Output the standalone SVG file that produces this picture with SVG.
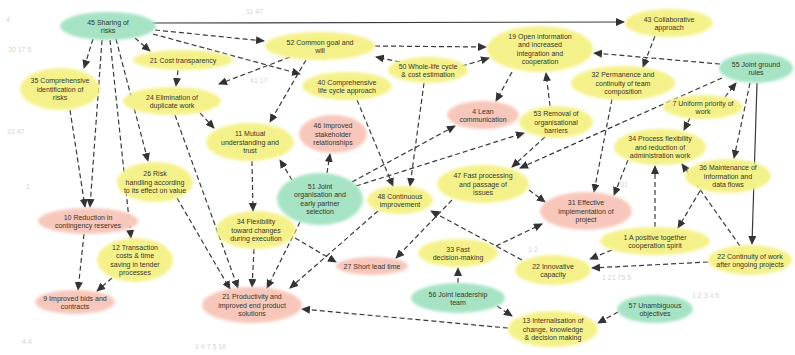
<svg xmlns="http://www.w3.org/2000/svg" width="795" height="355" viewBox="0 0 795 355">
<style>
.y{fill:#f5f18a}
.g{fill:#a6e3c4}
.s{fill:#f8c7bb}
.n ellipse{filter:url(#soft)}
.n text{font-family:"Liberation Sans",Arial,sans-serif;font-size:7px;fill:#35352a;text-anchor:middle}
.e line{stroke:#3a3a3a;stroke-width:1.2;stroke-dasharray:5 3;marker-end:url(#ah);fill:none}
.e line.solid{stroke-dasharray:none}
.faint{font-family:"Liberation Sans",Arial,sans-serif;font-size:7px;fill:#d4d4d4}
</style>
<defs>
<filter id="soft" x="-20%" y="-30%" width="140%" height="160%"><feGaussianBlur stdDeviation="1.6"/></filter>
<marker id="ah" markerUnits="userSpaceOnUse" markerWidth="9" markerHeight="8" refX="8" refY="4" orient="auto"><path d="M0,0 L9,4 L0,8 Z" fill="#333"/></marker>
</defs>
<rect width="795" height="355" fill="#fff"/>
<g id="faint-labels">
<text class="faint" x="246" y="14">11 47</text>
<text class="faint" x="250" y="83">41 17</text>
<text class="faint" x="6" y="22">4</text>
<text class="faint" x="8" y="52">30 17 5</text>
<text class="faint" x="7" y="134">31 47</text>
<text class="faint" x="26" y="189">1</text>
<text class="faint" x="22" y="344">4 4</text>
<text class="faint" x="195" y="349">1 4 7 5 16</text>
<text class="faint" x="602" y="280">1 21 75 5</text>
<text class="faint" x="692" y="298">1 2 3 4 5</text>
<text class="faint" x="528" y="252">1 2</text>
<text class="faint" x="620" y="187">31</text>
</g>
<g id="connectors" class="e">
<line class="solid" x1="152" y1="23" x2="624" y2="22"/>
<line x1="155" y1="30" x2="264" y2="41"/>
<line x1="153" y1="34" x2="300" y2="74"/>
<line x1="135" y1="38" x2="150" y2="51"/>
<line x1="93" y1="39" x2="84" y2="68"/>
<line x1="102" y1="40" x2="90" y2="207"/>
<line x1="70" y1="110" x2="85" y2="207"/>
<line x1="110" y1="40" x2="131" y2="238"/>
<line x1="116" y1="39" x2="148" y2="161"/>
<line x1="178" y1="70" x2="176" y2="86"/>
<line x1="290" y1="57" x2="219" y2="84"/>
<line x1="306" y1="60" x2="270" y2="122"/>
<line x1="375" y1="46" x2="486" y2="47"/>
<line x1="400" y1="62" x2="376" y2="57"/>
<line x1="462" y1="66" x2="489" y2="58"/>
<line x1="512" y1="72" x2="496" y2="101"/>
<line x1="550" y1="106" x2="546" y2="73"/>
<line x1="720" y1="64" x2="594" y2="53"/>
<line x1="655" y1="36" x2="643" y2="67"/>
<line x1="722" y1="78" x2="520" y2="168"/>
<line x1="750" y1="83" x2="734" y2="158"/>
<line class="solid" x1="757" y1="83" x2="752" y2="244"/>
<line x1="725" y1="97" x2="736" y2="83"/>
<line x1="690" y1="118" x2="684" y2="130"/>
<line x1="612" y1="99" x2="594" y2="192"/>
<line x1="628" y1="160" x2="614" y2="195"/>
<line x1="655" y1="227" x2="655" y2="166"/>
<line x1="740" y1="246" x2="682" y2="164"/>
<line x1="700" y1="191" x2="678" y2="228"/>
<line x1="708" y1="262" x2="592" y2="268"/>
<line x1="612" y1="250" x2="590" y2="259"/>
<line x1="497" y1="306" x2="512" y2="316"/>
<line x1="618" y1="312" x2="598" y2="323"/>
<line x1="508" y1="328" x2="302" y2="309"/>
<line x1="458" y1="283" x2="458" y2="268"/>
<line x1="452" y1="200" x2="396" y2="258"/>
<line x1="496" y1="246" x2="542" y2="224"/>
<line x1="522" y1="260" x2="431" y2="211"/>
<line x1="529" y1="190" x2="545" y2="202"/>
<line x1="545" y1="137" x2="512" y2="167"/>
<line x1="356" y1="186" x2="524" y2="133"/>
<line x1="352" y1="182" x2="455" y2="126"/>
<line x1="357" y1="100" x2="393" y2="186"/>
<line x1="424" y1="83" x2="410" y2="186"/>
<line x1="292" y1="180" x2="280" y2="160"/>
<line x1="327" y1="173" x2="330" y2="154"/>
<line x1="252" y1="161" x2="253" y2="211"/>
<line x1="378" y1="211" x2="290" y2="288"/>
<line x1="295" y1="238" x2="336" y2="262"/>
<line x1="254" y1="249" x2="252" y2="287"/>
<line x1="300" y1="222" x2="267" y2="288"/>
<line x1="177" y1="198" x2="230" y2="289"/>
<line x1="175" y1="115" x2="238" y2="288"/>
<line x1="200" y1="113" x2="214" y2="128"/>
<line x1="84" y1="234" x2="78" y2="290"/>
<line x1="112" y1="278" x2="97" y2="291"/>
</g>
<g id="n45" class="n"><ellipse class="g" cx="108" cy="26" rx="48" ry="14"/><text x="108" y="24.5">45 Sharing of</text><text x="108" y="33">risks</text></g>
<g id="n52" class="n"><ellipse class="y" cx="320" cy="46" rx="55" ry="14"/><text x="320" y="44.5">52 Common goal and</text><text x="320" y="53">will</text></g>
<g id="n19" class="n"><ellipse class="y" cx="540" cy="49" rx="53" ry="23"/><text x="540" y="38.5">19 Open information</text><text x="540" y="47">and increased</text><text x="540" y="55.5">integration and</text><text x="540" y="64">cooperation</text></g>
<g id="n43" class="n"><ellipse class="y" cx="669" cy="23" rx="44" ry="14"/><text x="669" y="21.5">43 Collaborative</text><text x="669" y="30">approach</text></g>
<g id="n55" class="n"><ellipse class="g" cx="756" cy="68" rx="37" ry="15"/><text x="756" y="66.5">55 Joint ground</text><text x="756" y="75">rules</text></g>
<g id="n35" class="n"><ellipse class="y" cx="60" cy="89" rx="40" ry="21"/><text x="60" y="83">35 Comprehensive</text><text x="60" y="91.5">identification of</text><text x="60" y="100">risks</text></g>
<g id="n21c" class="n"><ellipse class="y" cx="183" cy="60" rx="50" ry="10"/><text x="183" y="62.5">21 Cost transparency</text></g>
<g id="n24" class="n"><ellipse class="y" cx="172" cy="101" rx="49" ry="14"/><text x="172" y="99.5">24 Elimination of</text><text x="172" y="108">duplicate work</text></g>
<g id="n40" class="n"><ellipse class="y" cx="347" cy="86" rx="45" ry="14"/><text x="347" y="84.5">40 Comprehensive</text><text x="347" y="93">life cycle approach</text></g>
<g id="n50" class="n"><ellipse class="y" cx="428" cy="70" rx="40" ry="13"/><text x="428" y="68.5">50 Whole-life cycle</text><text x="428" y="77">&amp; cost estimation</text></g>
<g id="n32" class="n"><ellipse class="y" cx="623" cy="83" rx="52" ry="17"/><text x="623" y="77">32 Permanence and</text><text x="623" y="85.5">continuity of team</text><text x="623" y="94">composition</text></g>
<g id="n7" class="n"><ellipse class="y" cx="703" cy="107" rx="40" ry="12"/><text x="703" y="105.5">7 Uniform priority of</text><text x="703" y="114">work</text></g>
<g id="n4" class="n"><ellipse class="s" cx="483" cy="115" rx="36" ry="14"/><text x="483" y="113.5">4 Lean</text><text x="483" y="122">communication</text></g>
<g id="n53" class="n"><ellipse class="y" cx="556" cy="122" rx="37" ry="16"/><text x="556" y="116">53 Removal of</text><text x="556" y="124.5">organisational</text><text x="556" y="133">barriers</text></g>
<g id="n11" class="n"><ellipse class="y" cx="250" cy="142" rx="44" ry="19"/><text x="250" y="136">11 Mutual</text><text x="250" y="144.5">understanding and</text><text x="250" y="153">trust</text></g>
<g id="n46" class="n"><ellipse class="s" cx="333" cy="134" rx="34" ry="19"/><text x="333" y="128">46 Improved</text><text x="333" y="136.5">stakeholder</text><text x="333" y="145">relationships</text></g>
<g id="n34p" class="n"><ellipse class="y" cx="660" cy="147" rx="46" ry="18"/><text x="660" y="141">34 Process flexibility</text><text x="660" y="149.5">and reduction of</text><text x="660" y="158">administration work</text></g>
<g id="n36" class="n"><ellipse class="y" cx="728" cy="176" rx="43" ry="17"/><text x="728" y="170">36 Maintenance of</text><text x="728" y="178.5">information and</text><text x="728" y="187">data flows</text></g>
<g id="n26" class="n"><ellipse class="y" cx="155" cy="182" rx="38" ry="20"/><text x="155" y="176">26 Risk</text><text x="155" y="184.5">handling according</text><text x="155" y="193">to its effect on value</text></g>
<g id="n51" class="n"><ellipse class="g" cx="320" cy="199" rx="43" ry="26"/><text x="320" y="188.5">51 Joint</text><text x="320" y="197">organisation and</text><text x="320" y="205.5">early partner</text><text x="320" y="214">selection</text></g>
<g id="n48" class="n"><ellipse class="y" cx="400" cy="200" rx="33" ry="14"/><text x="400" y="198.5">48 Continuous</text><text x="400" y="207">improvement</text></g>
<g id="n47" class="n"><ellipse class="y" cx="483" cy="184" rx="46" ry="19"/><text x="483" y="178">47 Fast processing</text><text x="483" y="186.5">and passage of</text><text x="483" y="195">issues</text></g>
<g id="n31" class="n"><ellipse class="s" cx="586" cy="211" rx="46" ry="19"/><text x="586" y="205">31 Effective</text><text x="586" y="213.5">implementation of</text><text x="586" y="222">project</text></g>
<g id="n10" class="n"><ellipse class="s" cx="88" cy="221" rx="50" ry="13"/><text x="88" y="219.5">10 Reduction in</text><text x="88" y="228">contingency reserves</text></g>
<g id="n34f" class="n"><ellipse class="y" cx="256" cy="230" rx="40" ry="19"/><text x="256" y="224">34 Flexibility</text><text x="256" y="232.5">toward changes</text><text x="256" y="241">during execution</text></g>
<g id="n12" class="n"><ellipse class="y" cx="135" cy="260" rx="38" ry="22"/><text x="135" y="249.5">12 Transaction</text><text x="135" y="258">costs &amp; time</text><text x="135" y="266.5">saving in tender</text><text x="135" y="275">processes</text></g>
<g id="n9" class="n"><ellipse class="s" cx="75" cy="302" rx="40" ry="12"/><text x="75" y="300.5">9 Improved bids and</text><text x="75" y="309">contracts</text></g>
<g id="n21" class="n"><ellipse class="s" cx="252" cy="305" rx="50" ry="18"/><text x="252" y="299">21 Productivity and</text><text x="252" y="307.5">improved end product</text><text x="252" y="316">solutions</text></g>
<g id="n27" class="n"><ellipse class="s" cx="372" cy="266" rx="36" ry="9"/><text x="372" y="268.5">27 Short lead time</text></g>
<g id="n33" class="n"><ellipse class="y" cx="458" cy="253" rx="40" ry="14"/><text x="458" y="251.5">33 Fast</text><text x="458" y="260">decision-making</text></g>
<g id="n22i" class="n"><ellipse class="y" cx="553" cy="270" rx="38" ry="15"/><text x="553" y="268.5">22 Innovative</text><text x="553" y="277">capacity</text></g>
<g id="n1" class="n"><ellipse class="y" cx="655" cy="241" rx="55" ry="14"/><text x="655" y="239.5">1 A positive together</text><text x="655" y="248">cooperation spirit</text></g>
<g id="n22c" class="n"><ellipse class="y" cx="750" cy="260" rx="42" ry="15"/><text x="750" y="258.5">22 Continuity of work</text><text x="750" y="267">after ongoing projects</text></g>
<g id="n56" class="n"><ellipse class="g" cx="458" cy="298" rx="47" ry="15"/><text x="458" y="296.5">56 Joint leadership</text><text x="458" y="305">team</text></g>
<g id="n57" class="n"><ellipse class="g" cx="655" cy="309" rx="38" ry="14"/><text x="655" y="307.5">57 Unambiguous</text><text x="655" y="316">objectives</text></g>
<g id="n13" class="n"><ellipse class="y" cx="553" cy="329" rx="45" ry="18"/><text x="553" y="323">13 Internalisation of</text><text x="553" y="331.5">change, knowledge</text><text x="553" y="340">&amp; decision making</text></g>
</svg>
